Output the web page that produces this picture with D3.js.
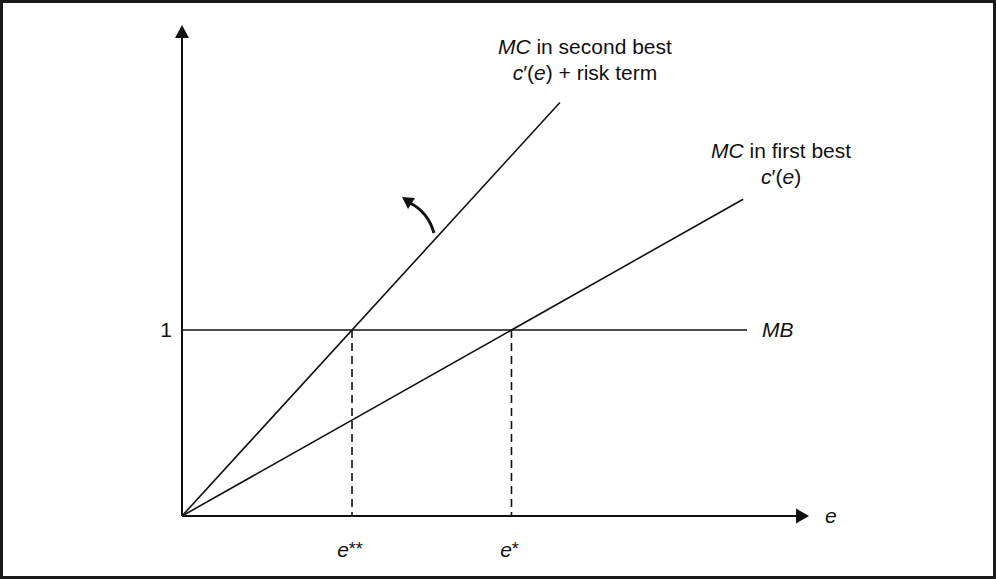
<!DOCTYPE html>
<html>
<head>
<meta charset="utf-8">
<script src="https://cdn.jsdelivr.net/npm/d3@7/dist/d3.min.js"></script>
<style>
  html, body { margin: 0; padding: 0; background: #fff; }
  svg { display: block; }
  text { font-family: "Liberation Sans", Arial, Helvetica, sans-serif; fill: #111; }
</style>
</head>
<body>
<script>
// ---- data ----
const xDomain = [0, 1.903];          // effort e
const yDomain = [0, 2.64];           // marginal cost / benefit
const mbValue = 1;                   // MB = 1
const eqValues = [0.516, 1];         // e**, e*
const eqLabels = ["**", "*"];
const yTickValues = [1];
const yTickLabels = ["1"];
const firstBest = [[0, 0], [1.703, 1.703]];     // c'(e)
const secondBest = [[0, 0], [1.147, 2.223]];    // c'(e) + risk term
const mbLine = [[0, mbValue], [1.715, mbValue]];

const W = 996, H = 579;
const svg = d3.select("body").append("svg").attr("width", W).attr("height", H);

svg.append("rect").attr("x", 1.5).attr("y", 1.5).attr("width", W - 3).attr("height", H - 3)
  .attr("fill", "none").attr("stroke", "#1a1a1a").attr("stroke-width", 3);

const x = d3.scaleLinear().domain(xDomain).range([182, 809]);
const y = d3.scaleLinear().domain(yDomain).range([516, 25]);
const line = d3.line().x(d => x(d[0])).y(d => y(d[1]));

const FS = 21;

// axes
svg.append("line").attr("x1", x(0)).attr("y1", y(0)).attr("x2", x(0)).attr("y2", y(yDomain[1]) + 12)
  .attr("stroke", "#111").attr("stroke-width", 2);
svg.append("path").attr("d", `M${x(0)},${y(yDomain[1])} L${x(0) - 7},${y(yDomain[1]) + 13} L${x(0) + 7},${y(yDomain[1]) + 13} Z`)
  .attr("fill", "#111");
svg.append("line").attr("x1", x(0)).attr("y1", y(0)).attr("x2", x(xDomain[1]) - 12).attr("y2", y(0))
  .attr("stroke", "#111").attr("stroke-width", 2);
svg.append("path").attr("d", `M${x(xDomain[1])},${y(0)} L${x(xDomain[1]) - 13},${y(0) - 7.5} L${x(xDomain[1]) - 13},${y(0) + 7.5} Z`)
  .attr("fill", "#111");

// axis label e
svg.append("text").attr("x", x(xDomain[1]) + 16).attr("y", y(0) + 7).attr("font-size", FS)
  .attr("font-style", "italic").text("e");

// y tick label
yTickValues.forEach((v, i) => {
  svg.append("text").attr("x", x(0) - 16).attr("y", y(v) + 7).attr("text-anchor", "middle")
    .attr("font-size", FS).text(yTickLabels[i]);
});

// MB line
svg.append("path").attr("d", line(mbLine)).attr("fill", "none").attr("stroke", "#111").attr("stroke-width", 1.6);
svg.append("text").attr("x", x(mbLine[1][0]) + 15).attr("y", y(mbValue) + 7).attr("font-size", FS)
  .attr("font-style", "italic").text("MB");

// MC lines
svg.append("path").attr("d", line(firstBest)).attr("fill", "none").attr("stroke", "#111").attr("stroke-width", 1.6);
svg.append("path").attr("d", line(secondBest)).attr("fill", "none").attr("stroke", "#111").attr("stroke-width", 1.6);

// dashed drop lines and labels
eqValues.forEach((v, i) => {
  svg.append("line").attr("x1", x(v)).attr("y1", y(mbValue)).attr("x2", x(v)).attr("y2", y(0))
    .attr("stroke", "#111").attr("stroke-width", 1.6).attr("stroke-dasharray", "8,5");
  const t = svg.append("text").attr("x", x(v) - 2).attr("y", y(0) + 41).attr("text-anchor", "middle").attr("font-size", FS);
  t.append("tspan").attr("font-style", "italic").text("e");
  t.append("tspan").attr("font-size", FS - 3).attr("dy", -2).text(eqLabels[i]);
});

// labels for MC lines
function mcLabel(cx, by, secondLine) {
  const t1 = svg.append("text").attr("x", cx).attr("y", by).attr("text-anchor", "middle").attr("font-size", FS);
  t1.append("tspan").attr("font-style", "italic").text("MC");
  t1.append("tspan").text(secondLine ? " in second best" : " in first best");
  const t2 = svg.append("text").attr("x", cx).attr("y", by + 26).attr("text-anchor", "middle").attr("font-size", FS);
  t2.append("tspan").attr("font-style", "italic").text("c");
  t2.append("tspan").text("\u2032(");
  t2.append("tspan").attr("font-style", "italic").text("e");
  t2.append("tspan").text(secondLine ? ") + risk term" : ")");
}
const sbEnd = secondBest[1], fbEnd = firstBest[1];
mcLabel(x(sbEnd[0]) + 25, y(sbEnd[1]) - 49, true);
mcLabel(x(fbEnd[0]) + 38, y(fbEnd[1]) - 41, false);

// curved rotation arrow
svg.append("path").attr("d", "M434,233 Q428,212 410,203")
  .attr("fill", "none").attr("stroke", "#111").attr("stroke-width", 3);
svg.append("path").attr("d", "M402,197 L415,198 L408,209 Z").attr("fill", "#111");
</script>
</body>
</html>
